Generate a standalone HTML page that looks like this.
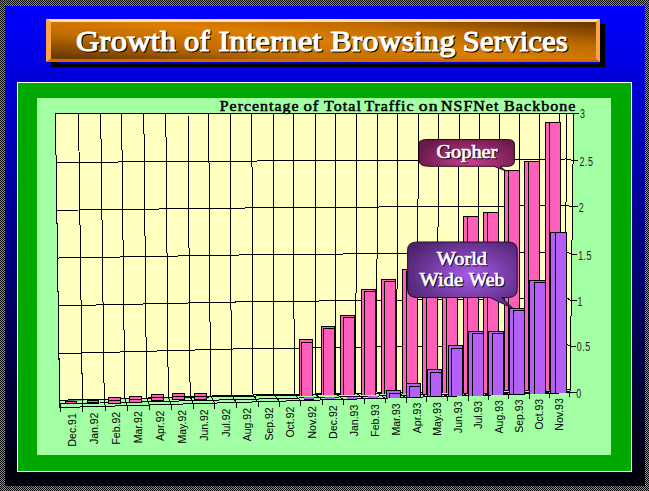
<!DOCTYPE html>
<html><head><meta charset="utf-8"><title>Growth of Internet Browsing Services</title>
<style>html,body{margin:0;padding:0;background:#000;width:649px;height:491px;overflow:hidden}</style>
</head><body>
<svg width="649" height="491" viewBox="0 0 649 491" style="display:block">
<defs>
<pattern id="chk" width="2" height="2" patternUnits="userSpaceOnUse"><rect width="2" height="2" fill="#000"/><rect x="1" y="0" width="1" height="1" fill="#8c8c8c"/><rect x="0" y="1" width="1" height="1" fill="#8c8c8c"/></pattern>
<linearGradient id="bg" x1="0" y1="6" x2="0" y2="486" gradientUnits="userSpaceOnUse">
<stop offset="0" stop-color="#0000ff"/><stop offset="1" stop-color="#000008"/></linearGradient>
<linearGradient id="tg" x1="323" y1="40" x2="319" y2="82" gradientUnits="userSpaceOnUse" spreadMethod="reflect">
<stop offset="0" stop-color="#dc7e00"/><stop offset="0.45" stop-color="#c06c00"/><stop offset="1" stop-color="#6a3800"/></linearGradient>
<radialGradient id="gw" cx="470" cy="275" r="70" gradientUnits="userSpaceOnUse" gradientTransform="translate(470 275) scale(1 0.6) translate(-470 -275)">
<stop offset="0" stop-color="#a85ae6"/><stop offset="1" stop-color="#4e2470"/></radialGradient>
<radialGradient id="gg" cx="470" cy="162" r="55" gradientUnits="userSpaceOnUse" gradientTransform="translate(470 162) scale(1 0.5) translate(-470 -162)">
<stop offset="0" stop-color="#c83c8c"/><stop offset="1" stop-color="#6a1a4a"/></radialGradient>
</defs>
<rect width="649" height="491" fill="url(#chk)"/>
<rect x="5" y="6" width="640" height="480" fill="url(#bg)"/>
<rect x="51" y="24" width="554" height="43" fill="#000"/>
<rect x="46" y="19" width="554" height="43" fill="url(#tg)"/>
<rect x="57" y="62" width="543" height="1" fill="#0000e2"/>
<polygon points="46,19 600,19 596,22 51,22" fill="#ffdcaa"/>
<polygon points="46,19 51,22 51,59 46,62" fill="#ffa443"/>
<polygon points="600,19 600,62 596,59 596,22" fill="#ffa443"/>
<polygon points="46,62 51,59 596,59 600,62" fill="#d06a00"/>
<rect x="17" y="82" width="615" height="390" fill="#fff"/>
<rect x="18" y="83" width="613" height="388" fill="#00a800"/>
<rect x="37" y="98" width="574" height="357" fill="#a3ffa3"/>
<polygon points="55.4,113 573.7,113 570,390.34 59.6,400.18" fill="#ffffbf"/>
<path d="M59.6 400.18L55.4 113L578 113M573.7 113L570 392.5M55.4 113L59.63 400.18M78.5 113L82.36 399.47M100.7 113L104.21 398.79M121.6 113L124.77 398.14M143.8 113L146.62 397.46M165.8 113L168.27 396.79M188 113L190.11 396.1M208.7 113L210.48 395.47M230 113L231.44 394.81M251.8 113L252.89 394.41M273.2 113L273.95 394.08M293.7 113L294.12 393.75M315 113L315.08 393.42M335.5 113L335.25 393.09M356.4 113L355.82 392.77M377.5 113L376.58 392.43M397.8 113L396.56 392.11M418.5 113L416.92 391.79M438.8 113L436.9 391.47M459.4 113L457.17 391.14M479.5 113L476.95 390.83M499.3 113L496.43 390.51M519.8 113L516.6 390.19M539.9 113L536.38 389.87M559.7 113L555.86 389.56M566.5 113L565 389.92M59.6 400.8L82.36 400.07L104.21 399.39L124.77 398.74L146.62 398.06L168.27 397.39L190.11 396.7L210.48 396.07L231.44 395.41L252.89 395.01L273.95 394.68L294.12 394.35L315.08 394.02L335.25 393.69L355.82 393.37L376.58 393.03L396.56 392.71L416.92 392.39L436.9 392.07L457.17 391.74L476.95 391.43L496.43 391.11L516.6 390.79L536.38 390.47L555.86 390.16M555.86 390.16L566 389.5L570 392.5M58.91 353.61L81.73 353.01L103.63 352.43L124.25 351.88L146.16 351.3L167.86 350.72L189.77 350.14L210.19 349.6L231.2 349.04L252.71 348.7L273.83 348.41L294.05 348.13L315.07 347.84L335.29 347.56L355.91 347.27L376.73 346.98L396.76 346.71L417.18 346.42L437.21 346.15L457.54 345.86L477.37 345.59L496.9 345.32L517.13 345.04L536.96 344.77L556.5 344.49M556.5 344.49L566 343.86L570.58 346.2M58.21 305.83L81.09 305.34L103.05 304.87L123.73 304.41L145.69 303.94L167.45 303.46L189.41 302.98L209.89 302.53L230.96 302.07L252.53 301.78L273.7 301.54L293.98 301.3L315.05 301.05L335.33 300.82L356.01 300.58L376.88 300.33L396.97 300.1L417.45 299.86L437.53 299.62L457.91 299.39L477.79 299.16L497.38 298.93L517.66 298.69L537.55 298.46L557.14 298.23M557.14 298.23L566 297.63L571.17 300.6M57.52 258.04L80.45 257.67L102.47 257.3L123.2 256.94L145.22 256.57L167.04 256.19L189.06 255.82L209.6 255.46L230.72 255.1L252.35 254.87L273.58 254.66L293.91 254.47L315.04 254.27L335.38 254.08L356.11 253.88L377.04 253.68L397.17 253.49L417.71 253.3L437.85 253.11L458.28 252.91L478.22 252.72L497.86 252.54L518.2 252.34L538.14 252.15L557.78 251.97M557.78 251.97L566 251.39L571.75 254.4M56.82 210.25L79.81 210L101.88 209.72L122.67 209.46L144.75 209.19L166.63 208.92L188.71 208.65L209.3 208.39L230.49 208.13L252.17 207.95L273.45 207.79L293.84 207.64L315.03 207.49L335.42 207.34L356.2 207.19L377.19 207.03L397.38 206.89L417.97 206.74L438.16 206.59L458.65 206.44L478.64 206.29L498.34 206.15L518.73 206L538.72 205.85L558.42 205.71M558.42 205.71L566 205.15L572.33 206.9M56.12 162.47L79.16 162.31L101.3 162.14L122.14 161.98L144.28 161.81L166.22 161.64L188.36 161.47L209 161.32L230.25 161.15L251.99 161.03L273.33 160.92L293.77 160.81L315.01 160.71L335.46 160.6L356.3 160.49L377.34 160.39L397.59 160.28L418.23 160.18L438.48 160.07L459.02 159.97L479.07 159.86L498.82 159.76L519.26 159.66L539.31 159.55L559.06 159.45M559.06 159.45L566 158.92L572.92 160.4" stroke="#000" stroke-width="1" fill="none" shape-rendering="crispEdges"/>
<polygon points="59.6,400.68 570,389.84 570,392.5 60,407.6" fill="#a3ffa3"/>
<path d="M59.6 400.18L570 389.34M60 404L570 391.2M60 407.6L577 392.5M59.63 400.18L60.6 407.58M60.6 407.58L60.6 412.38M82.36 399.47L82.96 407.02M82.96 407.02L82.96 411.82M104.21 398.79L105.22 406.46M105.22 406.46L105.22 411.26M124.77 398.14L127.37 405.91M127.37 405.91L127.37 410.71M146.62 397.46L149.43 405.35M149.43 405.35L149.43 410.15M168.27 396.79L171.38 404.8M171.38 404.8L171.38 409.6M190.11 396.1L193.23 404.25M193.23 404.25L193.23 409.05M210.48 395.47L214.99 403.7M214.99 403.7L214.99 408.5M231.44 394.81L236.64 403.15M236.64 403.15L236.64 407.95M252.89 394.41L258.18 402.46M258.18 402.46L258.18 407.26M273.95 394.08L279.63 401.77M279.63 401.77L279.63 406.57M294.12 393.75L300.98 401.09M300.98 401.09L300.98 405.89M315.08 393.42L322.22 400.41M322.22 400.41L322.22 405.21M335.25 393.09L343.36 399.74M343.36 399.74L343.36 404.54M355.82 392.77L364.4 399.07M364.4 399.07L364.4 403.87M376.58 392.43L385.34 398.4M385.34 398.4L385.34 403.2M396.56 392.11L406.18 397.73M406.18 397.73L406.18 402.53M416.92 391.79L426.92 397.07M426.92 397.07L426.92 401.87M436.9 391.47L447.55 396.41M447.55 396.41L447.55 401.21M457.17 391.14L468.09 395.76M468.09 395.76L468.09 400.56M476.95 390.83L488.52 395.1M488.52 395.1L488.52 399.9M496.43 390.51L508.85 394.45M508.85 394.45L508.85 399.25M516.6 390.19L529.08 393.81M529.08 393.81L529.08 398.61M536.38 389.87L549.21 393.16M549.21 393.16L549.21 397.96M555.86 389.56L569.24 392.52M569.24 392.52L569.24 397.32M59.6 400.18L60 407.6" stroke="#000" stroke-width="1" fill="none" shape-rendering="crispEdges"/>
<g shape-rendering="crispEdges">
<rect x="65" y="401" width="12" height="3" fill="#000"/><rect x="66" y="402" width="10" height="1" fill="#ff5fb9"/>
<rect x="87" y="400" width="12" height="3" fill="#000"/><rect x="88" y="401" width="10" height="1" fill="#ff5fb9"/>
<rect x="108" y="397" width="13" height="7" fill="#000"/><rect x="109" y="398" width="11" height="2" fill="#ff5fb9"/><rect x="109" y="401" width="11" height="2" fill="#ff5fb9"/>
<rect x="129" y="396" width="13" height="7" fill="#000"/><rect x="130" y="397" width="11" height="2" fill="#ff5fb9"/><rect x="130" y="400" width="11" height="2" fill="#ff5fb9"/>
<rect x="151" y="394" width="13" height="7" fill="#000"/><rect x="152" y="395" width="11" height="2" fill="#ff5fb9"/><rect x="152" y="398" width="11" height="2" fill="#ff5fb9"/>
<rect x="172" y="393" width="13" height="7" fill="#000"/><rect x="173" y="394" width="11" height="2" fill="#ff5fb9"/><rect x="173" y="397" width="11" height="2" fill="#ff5fb9"/>
<rect x="194" y="393" width="13" height="7" fill="#000"/><rect x="195" y="394" width="11" height="2" fill="#ff5fb9"/><rect x="195" y="397" width="11" height="2" fill="#ff5fb9"/>
<rect x="299" y="339" width="14" height="57" fill="#000"/><rect x="300" y="340" width="1" height="56" fill="#ff5fb9"/><rect x="300" y="340" width="12" height="2" fill="#ff5fb9"/><rect x="302" y="343" width="10" height="53" fill="#ff5fb9"/>
<rect x="321" y="326" width="14" height="69" fill="#000"/><rect x="322" y="327" width="1" height="68" fill="#ff5fb9"/><rect x="322" y="327" width="12" height="1" fill="#ff5fb9"/><rect x="324" y="329" width="10" height="66" fill="#ff5fb9"/>
<rect x="340" y="315" width="15" height="80" fill="#000"/><rect x="341" y="316" width="2" height="79" fill="#ff5fb9"/><rect x="341" y="316" width="13" height="1" fill="#ff5fb9"/><rect x="344" y="318" width="10" height="77" fill="#ff5fb9"/>
<rect x="361" y="289" width="15" height="106" fill="#000"/><rect x="362" y="290" width="2" height="105" fill="#ff5fb9"/><rect x="362" y="290" width="13" height="1" fill="#ff5fb9"/><rect x="365" y="292" width="10" height="103" fill="#ff5fb9"/>
<rect x="381" y="279" width="15" height="115" fill="#000"/><rect x="382" y="280" width="2" height="114" fill="#ff5fb9"/><rect x="382" y="280" width="13" height="1" fill="#ff5fb9"/><rect x="385" y="282" width="10" height="112" fill="#ff5fb9"/>
<rect x="402" y="269" width="16" height="125" fill="#000"/><rect x="403" y="270" width="3" height="124" fill="#ff5fb9"/><rect x="403" y="270" width="14" height="1" fill="#ff5fb9"/><rect x="407" y="272" width="10" height="122" fill="#ff5fb9"/>
<rect x="422" y="258" width="16" height="136" fill="#000"/><rect x="423" y="259" width="3" height="135" fill="#ff5fb9"/><rect x="427" y="260" width="10" height="134" fill="#ff5fb9"/>
<rect x="442" y="250" width="16" height="143" fill="#000"/><rect x="443" y="251" width="3" height="142" fill="#ff5fb9"/><rect x="447" y="251" width="10" height="142" fill="#ff5fb9"/>
<rect x="463" y="216" width="16" height="177" fill="#000"/><rect x="464" y="217" width="3" height="176" fill="#ff5fb9"/><rect x="468" y="217" width="10" height="176" fill="#ff5fb9"/>
<rect x="483" y="212" width="16" height="181" fill="#000"/><rect x="484" y="213" width="3" height="180" fill="#ff5fb9"/><rect x="488" y="213" width="10" height="180" fill="#ff5fb9"/>
<rect x="504" y="170" width="16" height="220" fill="#000"/><rect x="505" y="171" width="3" height="219" fill="#ff5fb9"/><rect x="509" y="171" width="10" height="219" fill="#ff5fb9"/>
<rect x="524" y="161" width="16" height="229" fill="#000"/><rect x="525" y="162" width="3" height="228" fill="#ff5fb9"/><rect x="529" y="162" width="10" height="228" fill="#ff5fb9"/>
<rect x="545" y="122" width="16" height="268" fill="#000"/><rect x="546" y="123" width="3" height="267" fill="#ff5fb9"/><rect x="550" y="123" width="10" height="267" fill="#ff5fb9"/>
<rect x="304" y="397" width="10" height="2" fill="#b45ff5"/><rect x="304" y="399" width="10" height="1" fill="#000"/>
<rect x="325" y="397" width="10" height="2" fill="#b45ff5"/><rect x="325" y="399" width="10" height="1" fill="#000"/>
<rect x="347" y="397" width="10" height="2" fill="#b45ff5"/><rect x="347" y="399" width="10" height="1" fill="#000"/>
<rect x="368" y="396" width="10" height="2" fill="#b45ff5"/><rect x="368" y="398" width="10" height="1" fill="#000"/>
<rect x="386" y="390" width="15" height="8" fill="#000"/><rect x="387" y="391" width="2" height="7" fill="#b45ff5"/><rect x="387" y="391" width="13" height="2" fill="#b45ff5"/><rect x="390" y="394" width="10" height="4" fill="#b45ff5"/>
<rect x="406" y="383" width="15" height="14" fill="#000"/><rect x="407" y="384" width="2" height="13" fill="#b45ff5"/><rect x="407" y="384" width="13" height="2" fill="#b45ff5"/><rect x="410" y="387" width="10" height="10" fill="#b45ff5"/>
<rect x="427" y="369" width="15" height="27" fill="#000"/><rect x="428" y="370" width="2" height="26" fill="#b45ff5"/><rect x="428" y="370" width="13" height="2" fill="#b45ff5"/><rect x="431" y="373" width="10" height="23" fill="#b45ff5"/>
<rect x="448" y="345" width="15" height="51" fill="#000"/><rect x="449" y="346" width="2" height="50" fill="#b45ff5"/><rect x="449" y="346" width="13" height="2" fill="#b45ff5"/><rect x="452" y="349" width="10" height="47" fill="#b45ff5"/>
<rect x="468" y="331" width="16" height="65" fill="#000"/><rect x="469" y="332" width="3" height="64" fill="#b45ff5"/><rect x="469" y="332" width="14" height="1" fill="#b45ff5"/><rect x="473" y="334" width="10" height="62" fill="#b45ff5"/>
<rect x="488" y="331" width="16" height="64" fill="#000"/><rect x="489" y="332" width="3" height="63" fill="#b45ff5"/><rect x="489" y="332" width="14" height="1" fill="#b45ff5"/><rect x="493" y="334" width="10" height="61" fill="#b45ff5"/>
<rect x="509" y="308" width="16" height="86" fill="#000"/><rect x="510" y="309" width="3" height="85" fill="#b45ff5"/><rect x="510" y="309" width="14" height="1" fill="#b45ff5"/><rect x="514" y="311" width="10" height="83" fill="#b45ff5"/>
<rect x="529" y="280" width="17" height="114" fill="#000"/><rect x="530" y="281" width="4" height="113" fill="#b45ff5"/><rect x="530" y="281" width="15" height="1" fill="#b45ff5"/><rect x="535" y="283" width="10" height="111" fill="#b45ff5"/>
<rect x="550" y="232" width="17" height="161" fill="#000"/><rect x="551" y="233" width="4" height="160" fill="#b45ff5"/><rect x="556" y="233" width="10" height="160" fill="#b45ff5"/>
</g>
<path d="M570 392.5L575.5 392.5M570.58 346.2L576.08 346.2M571.17 300.6L576.67 300.6M571.75 254.4L577.25 254.4M572.33 206.9L577.83 206.9M572.92 160.4L578.42 160.4M573.5 113.2L579 113.2" stroke="#000" stroke-width="1" fill="none" shape-rendering="crispEdges"/>
<text transform="translate(576.2 397.6) scale(0.74 1)" font-family="Liberation Sans" font-size="12" fill="#222" letter-spacing="0.7">0</text>
<text transform="translate(576.85 351.3) scale(0.74 1)" font-family="Liberation Sans" font-size="12" fill="#222" letter-spacing="0.7">0.5</text>
<text transform="translate(577.5 305.7) scale(0.74 1)" font-family="Liberation Sans" font-size="12" fill="#222" letter-spacing="0.7">1</text>
<text transform="translate(578.15 259.5) scale(0.74 1)" font-family="Liberation Sans" font-size="12" fill="#222" letter-spacing="0.7">1.5</text>
<text transform="translate(578.8 212) scale(0.74 1)" font-family="Liberation Sans" font-size="12" fill="#222" letter-spacing="0.7">2</text>
<text transform="translate(579.45 165.5) scale(0.74 1)" font-family="Liberation Sans" font-size="12" fill="#222" letter-spacing="0.7">2.5</text>
<text transform="translate(580.1 118.3) scale(0.74 1)" font-family="Liberation Sans" font-size="12" fill="#222" letter-spacing="0.7">3</text>
<text transform="translate(75.8 413.2) rotate(-90)" text-anchor="end" font-family="Liberation Sans" font-size="10.5" fill="#000">Dec.91</text>
<text transform="translate(98.12 412.55) rotate(-90)" text-anchor="end" font-family="Liberation Sans" font-size="10.5" fill="#000">Jan.92</text>
<text transform="translate(120.33 411.9) rotate(-90)" text-anchor="end" font-family="Liberation Sans" font-size="10.5" fill="#000">Feb.92</text>
<text transform="translate(142.44 411.24) rotate(-90)" text-anchor="end" font-family="Liberation Sans" font-size="10.5" fill="#000">Mar.92</text>
<text transform="translate(164.45 410.59) rotate(-90)" text-anchor="end" font-family="Liberation Sans" font-size="10.5" fill="#000">Apr.92</text>
<text transform="translate(186.37 409.94) rotate(-90)" text-anchor="end" font-family="Liberation Sans" font-size="10.5" fill="#000">May.92</text>
<text transform="translate(208.17 409.29) rotate(-90)" text-anchor="end" font-family="Liberation Sans" font-size="10.5" fill="#000">Jun.92</text>
<text transform="translate(229.88 408.63) rotate(-90)" text-anchor="end" font-family="Liberation Sans" font-size="10.5" fill="#000">Jul.92</text>
<text transform="translate(251.49 407.98) rotate(-90)" text-anchor="end" font-family="Liberation Sans" font-size="10.5" fill="#000">Aug.92</text>
<text transform="translate(272.99 407.33) rotate(-90)" text-anchor="end" font-family="Liberation Sans" font-size="10.5" fill="#000">Sep.92</text>
<text transform="translate(294.4 406.68) rotate(-90)" text-anchor="end" font-family="Liberation Sans" font-size="10.5" fill="#000">Oct.92</text>
<text transform="translate(315.7 406.03) rotate(-90)" text-anchor="end" font-family="Liberation Sans" font-size="10.5" fill="#000">Nov.92</text>
<text transform="translate(336.9 405.37) rotate(-90)" text-anchor="end" font-family="Liberation Sans" font-size="10.5" fill="#000">Dec.92</text>
<text transform="translate(358 404.72) rotate(-90)" text-anchor="end" font-family="Liberation Sans" font-size="10.5" fill="#000">Jan.93</text>
<text transform="translate(378.99 404.07) rotate(-90)" text-anchor="end" font-family="Liberation Sans" font-size="10.5" fill="#000">Feb.93</text>
<text transform="translate(399.89 403.42) rotate(-90)" text-anchor="end" font-family="Liberation Sans" font-size="10.5" fill="#000">Mar.93</text>
<text transform="translate(420.69 402.77) rotate(-90)" text-anchor="end" font-family="Liberation Sans" font-size="10.5" fill="#000">Apr.93</text>
<text transform="translate(441.38 402.11) rotate(-90)" text-anchor="end" font-family="Liberation Sans" font-size="10.5" fill="#000">May.93</text>
<text transform="translate(461.97 401.46) rotate(-90)" text-anchor="end" font-family="Liberation Sans" font-size="10.5" fill="#000">Jun.93</text>
<text transform="translate(482.46 400.81) rotate(-90)" text-anchor="end" font-family="Liberation Sans" font-size="10.5" fill="#000">Jul.93</text>
<text transform="translate(502.85 400.16) rotate(-90)" text-anchor="end" font-family="Liberation Sans" font-size="10.5" fill="#000">Aug.93</text>
<text transform="translate(523.14 399.5) rotate(-90)" text-anchor="end" font-family="Liberation Sans" font-size="10.5" fill="#000">Sep.93</text>
<text transform="translate(543.32 398.85) rotate(-90)" text-anchor="end" font-family="Liberation Sans" font-size="10.5" fill="#000">Oct.93</text>
<text transform="translate(563.41 398.2) rotate(-90)" text-anchor="end" font-family="Liberation Sans" font-size="10.5" fill="#000">Nov.93</text>
<text x="219.8" y="111" font-family="Liberation Serif" font-weight="normal" stroke="#000" stroke-width="0.55" font-size="15.5" letter-spacing="1.0" fill="#000" textLength="79.65" lengthAdjust="spacingAndGlyphs">Percentage</text>
<text x="303.4" y="111" font-family="Liberation Serif" font-weight="normal" stroke="#000" stroke-width="0.55" font-size="15.5" letter-spacing="1.0" fill="#000" textLength="16.14" lengthAdjust="spacingAndGlyphs">of</text>
<text x="324.1" y="111" font-family="Liberation Serif" font-weight="normal" stroke="#000" stroke-width="0.55" font-size="15.5" letter-spacing="1.0" fill="#000" textLength="37.94" lengthAdjust="spacingAndGlyphs">Total</text>
<text x="364.4" y="111" font-family="Liberation Serif" font-weight="normal" stroke="#000" stroke-width="0.55" font-size="15.5" letter-spacing="1.0" fill="#000" textLength="50.14" lengthAdjust="spacingAndGlyphs">Traffic</text>
<text x="418.8" y="111" font-family="Liberation Serif" font-weight="normal" stroke="#000" stroke-width="0.55" font-size="15.5" letter-spacing="1.0" fill="#000" textLength="19.83" lengthAdjust="spacingAndGlyphs">on</text>
<text x="441.1" y="111" font-family="Liberation Serif" font-weight="normal" stroke="#000" stroke-width="0.55" font-size="15.5" letter-spacing="1.0" fill="#000" textLength="58.33" lengthAdjust="spacingAndGlyphs">NSFNet</text>
<text x="504.1" y="111" font-family="Liberation Serif" font-weight="normal" stroke="#000" stroke-width="0.55" font-size="15.5" letter-spacing="1.0" fill="#000" textLength="72.43" lengthAdjust="spacingAndGlyphs">Backbone</text>
<path d="M428 139.5 H507.5 Q514.4 139.5 514.4 144 V161.5 Q514.4 166.3 507 166.3 H500 L505.5 170.8 L494 166.3 H430 Q419.2 166.3 419.2 161 V143 Q419.2 139.5 428 139.5 Z" fill="url(#gg)" stroke="#2a0818" stroke-width="1"/>
<text x="437.4" y="159" font-family="Liberation Serif" font-weight="normal" stroke="#1a0010" stroke-width="0.7" font-size="18" fill="#1a0010" textLength="61" lengthAdjust="spacingAndGlyphs">Gopher</text>
<text x="436.4" y="158" font-family="Liberation Serif" font-weight="normal" stroke="#fff" stroke-width="0.7" font-size="18" fill="#fff" textLength="61" lengthAdjust="spacingAndGlyphs">Gopher</text>
<path d="M417.5 242 H507.5 Q517.2 242 517.2 250 V289.5 Q517.2 297.5 507.5 297.5 H502 L513 308.5 L490 297.5 H417 Q407.6 297.5 407.6 289.5 V250 Q407.6 242 417.5 242 Z" fill="url(#gw)" stroke="#1e0a30" stroke-width="1"/>
<text x="437.8" y="265.8" font-family="Liberation Serif" font-weight="normal" stroke="#100020" stroke-width="0.7" font-size="18" fill="#100020" textLength="50.2" lengthAdjust="spacingAndGlyphs">World</text>
<text x="436.8" y="264.8" font-family="Liberation Serif" font-weight="normal" stroke="#fff" stroke-width="0.7" font-size="18" fill="#fff" textLength="50.2" lengthAdjust="spacingAndGlyphs">World</text>
<text x="420.6" y="286.8" font-family="Liberation Serif" font-weight="normal" stroke="#100020" stroke-width="0.7" font-size="18" fill="#100020" textLength="43.4" lengthAdjust="spacingAndGlyphs">Wide</text>
<text x="469.7" y="286.8" font-family="Liberation Serif" font-weight="normal" stroke="#100020" stroke-width="0.7" font-size="18" fill="#100020" textLength="35.8" lengthAdjust="spacingAndGlyphs">Web</text>
<text x="419.6" y="285.8" font-family="Liberation Serif" font-weight="normal" stroke="#fff" stroke-width="0.7" font-size="18" fill="#fff" textLength="43.4" lengthAdjust="spacingAndGlyphs">Wide</text>
<text x="468.7" y="285.8" font-family="Liberation Serif" font-weight="normal" stroke="#fff" stroke-width="0.7" font-size="18" fill="#fff" textLength="35.8" lengthAdjust="spacingAndGlyphs">Web</text>
<text x="77" y="52" font-family="Liberation Serif" font-weight="normal" stroke="#000" stroke-width="1.1" font-size="28.5" letter-spacing="0.3" fill="#000" textLength="100.5" lengthAdjust="spacingAndGlyphs">Growth</text>
<text x="185" y="52" font-family="Liberation Serif" font-weight="normal" stroke="#000" stroke-width="1.1" font-size="28.5" letter-spacing="0.3" fill="#000" textLength="26.0" lengthAdjust="spacingAndGlyphs">of</text>
<text x="219.4" y="52" font-family="Liberation Serif" font-weight="normal" stroke="#000" stroke-width="1.1" font-size="28.5" letter-spacing="0.3" fill="#000" textLength="103.6" lengthAdjust="spacingAndGlyphs">Internet</text>
<text x="331.5" y="52" font-family="Liberation Serif" font-weight="normal" stroke="#000" stroke-width="1.1" font-size="28.5" letter-spacing="0.3" fill="#000" textLength="125.0" lengthAdjust="spacingAndGlyphs">Browsing</text>
<text x="463.8" y="52" font-family="Liberation Serif" font-weight="normal" stroke="#000" stroke-width="1.1" font-size="28.5" letter-spacing="0.3" fill="#000" textLength="105.3" lengthAdjust="spacingAndGlyphs">Services</text>
<text x="76" y="51" font-family="Liberation Serif" font-weight="normal" stroke="#fff" stroke-width="1.1" font-size="28.5" letter-spacing="0.3" fill="#fff" textLength="100.5" lengthAdjust="spacingAndGlyphs">Growth</text>
<text x="184" y="51" font-family="Liberation Serif" font-weight="normal" stroke="#fff" stroke-width="1.1" font-size="28.5" letter-spacing="0.3" fill="#fff" textLength="26.0" lengthAdjust="spacingAndGlyphs">of</text>
<text x="218.4" y="51" font-family="Liberation Serif" font-weight="normal" stroke="#fff" stroke-width="1.1" font-size="28.5" letter-spacing="0.3" fill="#fff" textLength="103.6" lengthAdjust="spacingAndGlyphs">Internet</text>
<text x="330.5" y="51" font-family="Liberation Serif" font-weight="normal" stroke="#fff" stroke-width="1.1" font-size="28.5" letter-spacing="0.3" fill="#fff" textLength="125.0" lengthAdjust="spacingAndGlyphs">Browsing</text>
<text x="462.8" y="51" font-family="Liberation Serif" font-weight="normal" stroke="#fff" stroke-width="1.1" font-size="28.5" letter-spacing="0.3" fill="#fff" textLength="105.3" lengthAdjust="spacingAndGlyphs">Services</text>
</svg>
</body></html>
